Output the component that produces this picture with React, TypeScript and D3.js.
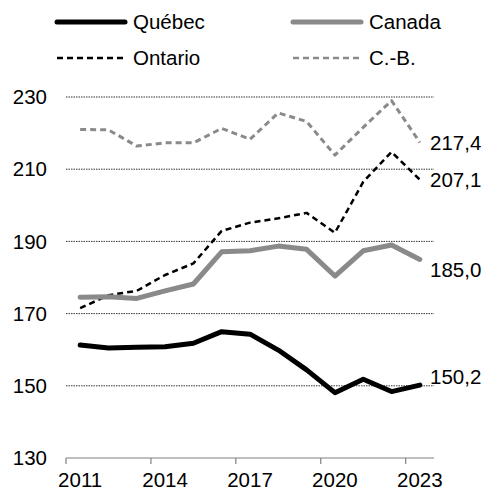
import React from 'react';
import * as d3 from 'd3';

const YEARS = ['2011', '2012', '2013', '2014', '2015', '2016', '2017', '2018', '2019', '2020', '2021', '2022', '2023'];
const QUEBEC = [161.3, 160.5, 160.7, 160.8, 161.8, 165.0, 164.3, 159.9, 154.4, 148.1, 151.8, 148.4, 150.2];
const CANADA = [174.5, 174.7, 174.2, 176.3, 178.2, 187.1, 187.4, 188.7, 187.8, 180.4, 187.4, 189.0, 185.0];
const ONTARIO = [171.5, 175.1, 176.3, 180.7, 183.9, 192.9, 195.2, 196.4, 197.9, 192.4, 206.5, 214.8, 207.1];
const CB = [221.0, 220.9, 216.4, 217.3, 217.3, 221.3, 218.3, 225.6, 223.2, 213.9, 221.6, 229.0, 217.4];
const Y_TICKS = [130, 150, 170, 190, 210, 230];
const X_LABELS = ['2011', '2014', '2017', '2020', '2023'];

const W = 484;
const H = 490;
const FONT = 'Liberation Sans, Arial, sans-serif';
const FS = 20.5;

const series = [
  { name: 'C.-B.', values: CB, color: '#8a8a8a', width: 3, dash: '6,4', dy: 0 },
  { name: 'Ontario', values: ONTARIO, color: '#000', width: 2.5, dash: '6,4', dy: 0 },
  { name: 'Canada', values: CANADA, color: '#8a8a8a', width: 5, dash: null, dy: 10 },
  { name: 'Québec', values: QUEBEC, color: '#000', width: 5, dash: null, dy: -8 },
];

const legend = [
  { name: 'Québec', color: '#000', width: 5, dash: null, x: 57, y: 22 },
  { name: 'Canada', color: '#8a8a8a', width: 5, dash: null, x: 293, y: 22 },
  { name: 'Ontario', color: '#000', width: 2.5, dash: '6,4', x: 57, y: 58 },
  { name: 'C.-B.', color: '#8a8a8a', width: 2.5, dash: '6,4', x: 293, y: 58 },
];

export default function App() {
  const x = d3.scaleBand<string>().domain(YEARS).range([66, 434]);
  const y = d3.scaleLinear().domain([130, 230]).range([458, 97]);
  const cx = (yr: string) => (x(yr) as number) + x.bandwidth() / 2;

  const line = d3
    .line<number>()
    .x((_, i) => cx(YEARS[i]))
    .y((d) => y(d));

  const fmt = (v: number) => v.toFixed(1).replace('.', ',');

  return (
    <svg width={W} height={H} style={{ position: 'absolute', left: 0, top: 0, background: '#fff' }} fontFamily={FONT}>
      {/* legend */}
      {legend.map((l) => (
        <g key={l.name}>
          <line
            x1={l.x}
            x2={l.x + 68}
            y1={l.y}
            y2={l.y}
            stroke={l.color}
            strokeWidth={l.width}
            strokeDasharray={l.dash || undefined}
            strokeLinecap={l.dash ? 'butt' : 'round'}
          />
          <text x={l.x + 76} y={l.y} dy="0.35em" fontSize={FS} fill="#000">
            {l.name}
          </text>
        </g>
      ))}

      {/* grid */}
      {Y_TICKS.filter((t) => t > 130).map((t) => (
        <line key={t} x1={66} x2={434} y1={y(t)} y2={y(t)} stroke="#000" strokeWidth={0.8} strokeDasharray="1.5,1" />
      ))}
      {Y_TICKS.map((t) => (
        <text key={t} x={47} y={y(t)} dy="0.35em" textAnchor="end" fontSize={FS} fill="#000">
          {t}
        </text>
      ))}

      {/* x axis */}
      <line x1={66} x2={434} y1={y(130)} y2={y(130)} stroke="#808080" strokeWidth={1.2} />
      {X_LABELS.map((yr) => (
        <g key={yr}>
          <line x1={x(yr)} x2={x(yr)} y1={y(130)} y2={y(130) + 6} stroke="#808080" strokeWidth={1.2} />
          <text x={cx(yr)} y={487} textAnchor="middle" fontSize={FS} fill="#000">
            {yr}
          </text>
        </g>
      ))}

      {/* lines */}
      {series.map((s) => (
        <path
          key={s.name}
          d={line(s.values) || ''}
          fill="none"
          stroke={s.color}
          strokeWidth={s.width}
          strokeDasharray={s.dash || undefined}
          strokeLinejoin="round"
          strokeLinecap={s.dash ? 'butt' : 'round'}
        />
      ))}

      {/* end labels */}
      {series.map((s) => {
        const v = s.values[s.values.length - 1];
        return (
          <text key={s.name} x={430} y={y(v) + s.dy} dy="0.35em" fontSize={FS} fill="#000">
            {fmt(v)}
          </text>
        );
      })}
    </svg>
  );
}
